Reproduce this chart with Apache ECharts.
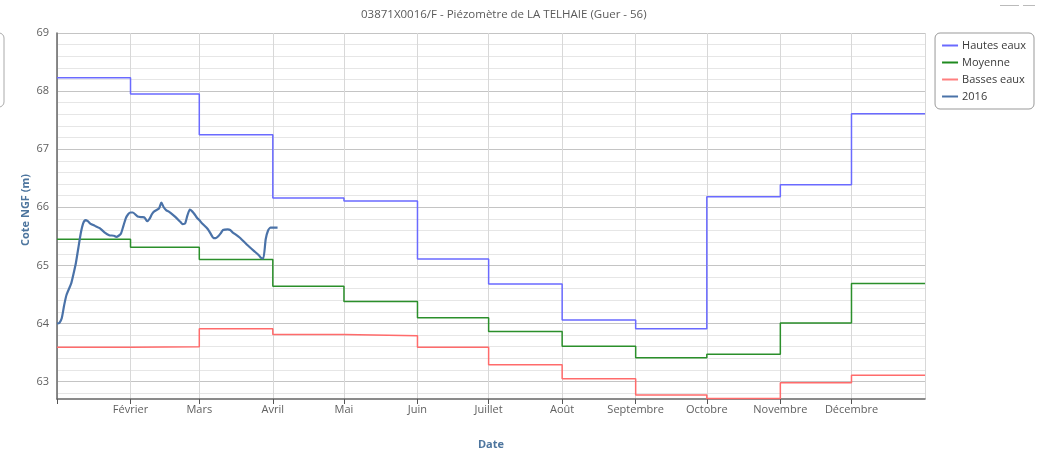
<!DOCTYPE html>
<html>
<head>
<meta charset="utf-8">
<script src="https://cdn.jsdelivr.net/npm/echarts@6/dist/echarts.min.js"></script>
<style>
html,body{margin:0;padding:0;background:#fff;}
#chart{width:1043px;height:456px;}
</style>
</head>
<body>
<div id="chart"></div>
<script>
const titleText = '03871X0016/F - Piézomètre de LA TELHAIE (Guer - 56)';
const monthStarts = ['2016-01-01','2016-02-01','2016-03-01','2016-04-01','2016-05-01','2016-06-01','2016-07-01','2016-08-01','2016-09-01','2016-10-01','2016-11-01','2016-12-01'];
const periodEnd = '2017-01-01';
const monthLabels = ['', 'Février', 'Mars', 'Avril', 'Mai', 'Juin', 'Juillet', 'Août', 'Septembre', 'Octobre', 'Novembre', 'Décembre'];
const hautesEaux = [68.23, 67.95, 67.25, 66.16, 66.11, 65.11, 64.68, 64.06, 63.91, 66.18, 66.39, 67.61];
const moyenne    = [65.45, 65.31, 65.10, 64.64, 64.38, 64.10, 63.86, 63.61, 63.41, 63.47, 64.01, 64.69];
const bassesEaux = [63.59, 63.60, 63.91, 63.81, 63.79, 63.59, 63.29, 63.05, 62.77, 62.71, 62.98, 63.11];

const dates2016 = ['2016-01-01','2016-01-02','2016-01-03','2016-01-04','2016-01-05','2016-01-07','2016-01-08','2016-01-09','2016-01-10','2016-01-11','2016-01-12','2016-01-13','2016-01-14','2016-01-15','2016-01-17','2016-01-19','2016-01-21','2016-01-23','2016-01-25','2016-01-26','2016-01-27','2016-01-28','2016-01-29','2016-01-30','2016-01-31','2016-02-01','2016-02-02','2016-02-04','2016-02-06','2016-02-07','2016-02-08','2016-02-09','2016-02-10','2016-02-11','2016-02-13','2016-02-14','2016-02-15','2016-02-16','2016-02-17','2016-02-18','2016-02-20','2016-02-22','2016-02-23','2016-02-24','2016-02-25','2016-02-26','2016-02-27','2016-02-28','2016-02-29','2016-03-01','2016-03-02','2016-03-04','2016-03-05','2016-03-06','2016-03-07','2016-03-08','2016-03-09','2016-03-10','2016-03-11','2016-03-13','2016-03-14','2016-03-15','2016-03-18','2016-03-21','2016-03-24','2016-03-26','2016-03-27','2016-03-28','2016-03-29','2016-03-30','2016-03-31','2016-04-01','2016-04-02','2016-04-03'];
const values2016 = [64.00,64.01,64.09,64.31,64.49,64.69,64.86,65.05,65.30,65.55,65.72,65.78,65.76,65.72,65.68,65.64,65.57,65.52,65.51,65.49,65.51,65.55,65.68,65.81,65.88,65.91,65.91,65.84,65.83,65.82,65.76,65.80,65.88,65.93,65.98,66.08,66.00,65.95,65.93,65.90,65.83,65.75,65.71,65.72,65.86,65.96,65.93,65.88,65.82,65.78,65.73,65.65,65.60,65.53,65.47,65.47,65.50,65.55,65.61,65.62,65.61,65.57,65.48,65.36,65.25,65.18,65.13,65.12,65.45,65.60,65.65,65.65,65.65,65.65];

function stepData(vals) {
  const d = monthStarts.map((m, i) => [m, vals[i]]);
  d.push([periodEnd, vals[vals.length - 1]]);
  return d;
}

const FONT = '"Open Sans", "DejaVu Sans", sans-serif';
const chart = echarts.init(document.getElementById('chart'), null, {renderer: 'canvas'});
const option = {
  animation: false,
  backgroundColor: '#ffffff',
  title: {
    text: titleText,
    left: 356, top: 4,
    textStyle: {fontFamily: FONT, fontSize: 11.5, fontWeight: 'normal', color: '#5a5a5a'}
  },
  legend: {
    orient: 'vertical',
    right: 9, top: 33,
    padding: [6, 8, 6, 7],
    borderColor: '#999999', borderWidth: 1, borderRadius: 5,
    icon: 'rect', itemWidth: 16, itemHeight: 2, itemGap: 4,
    textStyle: {fontFamily: FONT, fontSize: 11, color: '#3a3a3a', lineHeight: 13, padding: [0,0,0,-1]},
    data: ['Hautes eaux', 'Moyenne', 'Basses eaux', '2016']
  },
  grid: {left: 57, right: 118, top: 33, bottom: 57, containLabel: false, outerBoundsMode: 'none'},
  xAxis: {
    type: 'time',
    min: monthStarts[0], max: periodEnd,
    splitNumber: 12,
    minInterval: 28 * 86400000,
    maxInterval: 31 * 86400000,
    name: 'Date', nameLocation: 'middle', nameGap: 40, nameMoveOverlap: false,
    nameTextStyle: {fontFamily: FONT, fontSize: 11, fontWeight: 'bold', color: '#4d759e'},
    axisLine: {show: true, lineStyle: {color: '#666666', width: 1.5}},
    axisTick: {show: true, length: 5, lineStyle: {color: '#555555'}},
    axisLabel: {
      fontFamily: FONT, fontSize: 11, color: '#606060', margin: 5, hideOverlap: false,
      formatter: function (v) { return monthLabels[new Date(v).getMonth()]; }
    },
    splitLine: {show: true, lineStyle: {color: '#d8d8d8', width: 1}}
  },
  yAxis: {
    type: 'value',
    min: 62.7, max: 69, interval: 0.1,
    name: 'Cote NGF (m)', nameLocation: 'middle', nameGap: 26, nameRotate: 90, nameMoveOverlap: false,
    nameTextStyle: {fontFamily: FONT, fontSize: 11, fontWeight: 'bold', color: '#4d759e', padding: [0, 0, 0, 12]},
    axisLine: {show: true, lineStyle: {color: '#666666', width: 1.5}},
    axisTick: {show: false},
    axisLabel: {
      fontFamily: FONT, fontSize: 11, color: '#606060', margin: 8, padding: [0, 0, 4, 0],
      formatter: function (v) { return Math.abs(v - Math.round(v)) < 1e-6 ? String(Math.round(v)) : ''; }
    },
    splitLine: {show: true, showMinLine: true, lineStyle: {width: 1, color: ['rgba(0,0,0,0)', '#e6e6e6', 'rgba(0,0,0,0)', '#c4c4c4', 'rgba(0,0,0,0)', '#e6e6e6', 'rgba(0,0,0,0)', '#e6e6e6', 'rgba(0,0,0,0)', '#e6e6e6']}}
  },
  series: [
    {name: 'Hautes eaux', type: 'line', step: 'end', symbol: 'none', data: stepData(hautesEaux),
     color: '#6a6aff', lineStyle: {color: '#6a6aff', width: 1.5}},
    {name: 'Moyenne', type: 'line', step: 'end', symbol: 'none', data: stepData(moyenne),
     color: '#1f8a1f', lineStyle: {color: '#2b8f2b', width: 1.5}},
    {name: 'Basses eaux', type: 'line', step: 'end', symbol: 'none', data: stepData(bassesEaux),
     color: '#ff7f7f', lineStyle: {color: '#ff6b6b', width: 1.5}},
    {name: '2016', type: 'line', symbol: 'none', smooth: 0.2, data: dates2016.map((d, i) => [d, values2016[i]]),
     color: '#4a72a8', lineStyle: {color: '#4a72a8', width: 2.2}}
  ],
  graphic: [
    {type: 'rect', shape: {x: -12, y: 33, width: 16, height: 74, r: 5}, style: {fill: 'none', stroke: '#aaaaaa', lineWidth: 1}},
    {type: 'line', shape: {x1: 1000, y1: 5.5, x2: 1019, y2: 5.5}, style: {stroke: '#bbbbbb', lineWidth: 1}},
    {type: 'line', shape: {x1: 1023, y1: 5.5, x2: 1035, y2: 5.5}, style: {stroke: '#bbbbbb', lineWidth: 1}}
  ]
};
chart.setOption(option);
</script>
</body>
</html>
